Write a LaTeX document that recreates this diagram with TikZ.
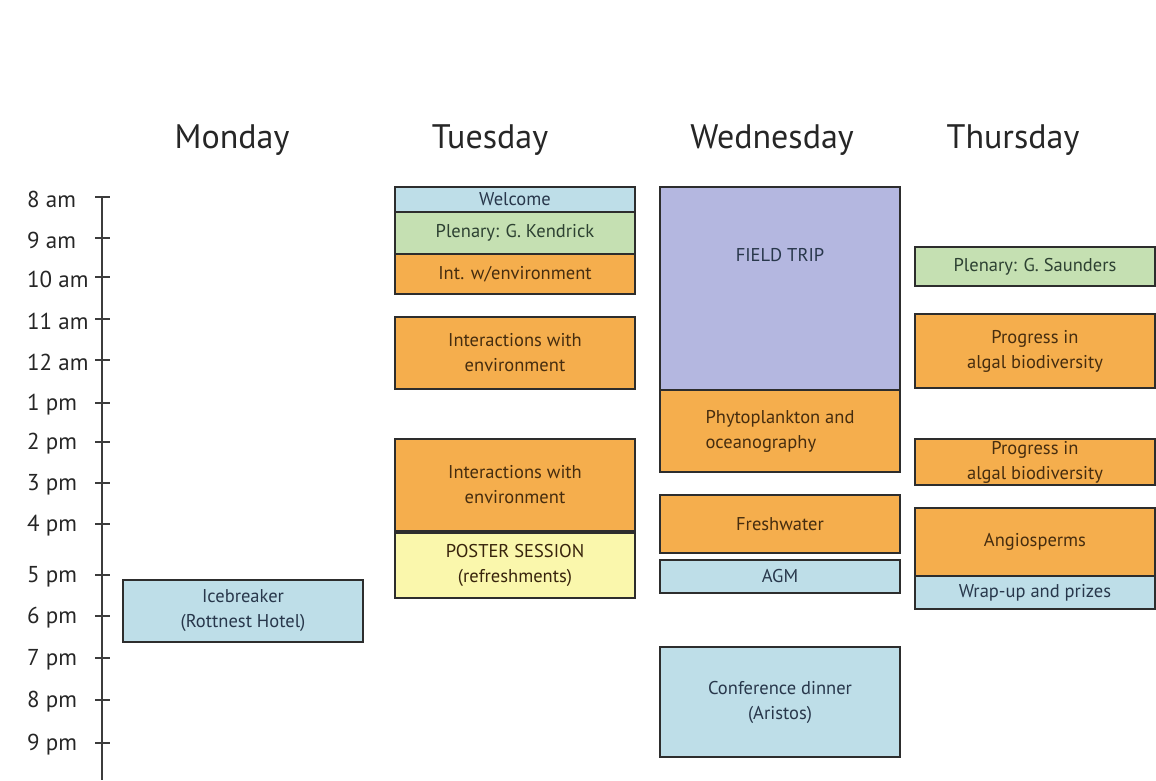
\documentclass[tikz,border=0pt]{standalone}
\usepackage{fontspec}
\setmainfont{PT Sans}
\definecolor{bluebox}{RGB}{190,222,232}
\definecolor{greenbox}{RGB}{197,224,178}
\definecolor{orangebox}{RGB}{245,174,77}
\definecolor{yellowbox}{RGB}{250,247,172}
\definecolor{tripbox}{RGB}{180,183,224}
\definecolor{boxline}{RGB}{45,45,45}
\definecolor{axisgray}{RGB}{60,60,60}
\definecolor{bluetext}{RGB}{40,55,75}
\definecolor{browntext}{RGB}{70,45,15}
\definecolor{greentext}{RGB}{45,65,50}

\begin{document}
\begin{tikzpicture}[x=1pt,y=-1pt,
    dayname/.style={font=\fontsize{34}{40}\selectfont, text=black!85},
    hourlabel/.style={anchor=west, font=\fontsize{23}{28}\selectfont, text=black!85, inner sep=0pt},
    slot/.style={draw=boxline, line width=1.5pt, minimum width=240pt, inner sep=0pt,
                 align=center, font=\fontsize{18.5}{25}\selectfont},
    blueslot/.style={slot, fill=bluebox, text=bluetext},
    greenslot/.style={slot, fill=greenbox, text=greentext},
    orangeslot/.style={slot, fill=orangebox, text=browntext},
    yellowslot/.style={slot, fill=yellowbox, text=browntext!80!black},
    tripslot/.style={slot, fill=tripbox, text=bluetext}]
\useasboundingbox (0,0) rectangle (1156,780);

% day headings
\node[dayname] (mon) at (232,140) {Monday};
\node[dayname] (tue) at (490,140) {Tuesday};
\node[dayname] (wed) at (772,140) {Wednesday};
\node[dayname] (thu) at (1013,140) {Thursday};

% time axis
\draw[axisgray, line width=1.6pt] (102,196) -- (102,780);
\foreach \y/\t [count=\i] in {199/8 am, 240/9 am, 279/10 am, 321/11 am, 362/12 am, 405/1 pm, 444/2 pm,
                              485/3 pm, 526/4 pm, 577/5 pm, 618/6 pm, 660/7 pm, 702/8 pm, 745/9 pm}
{
    \node[hourlabel] (h\i) at (27,\y) {\t};
    \draw[axisgray, line width=1.6pt] (95,\y-2) -- (110,\y-2);  % tick
}

% Monday
\node[blueslot, minimum height=62pt] (ice) at (243,611) {Icebreaker\\(Rottnest Hotel)};

% Tuesday
\node[blueslot, minimum height=25pt] (welcome) at (515,199.5) {Welcome};
\node[greenslot, minimum height=42pt] (kendrick) at (515,233) {Plenary: G. Kendrick};
\node[orangeslot, minimum height=40pt] (intA) at (515,274) {Int. w/environment};
\node[orangeslot, minimum height=72pt] (intB) at (515,353) {Interactions with\\environment};
\node[orangeslot, minimum height=92pt] (intC) at (515,485) {Interactions with\\environment};
\node[yellowslot, minimum height=65pt] (poster) at (515,565.5) {POSTER SESSION\\(refreshments)};

% Wednesday
\node[tripslot, minimum height=203pt] (trip) at (780,288.5) {};
\node[text=bluetext, font=\fontsize{18.5}{22}\selectfont] (tripText) at (780,255) {FIELD TRIP};
\node[orangeslot, minimum height=82pt, align=left] (phyto) at (780,431) {Phytoplankton and\\oceanography};
\node[orangeslot, minimum height=58pt] (fresh) at (780,524) {Freshwater};
\node[blueslot, minimum height=33pt] (agm) at (780,576.5) {AGM};
\node[blueslot, minimum height=110pt] (dinner) at (780,702) {Conference dinner\\(Aristos)};

% Thursday
\node[greenslot, minimum height=39pt] (saunders) at (1035,266.5) {Plenary: G. Saunders};
\node[orangeslot, minimum height=74pt] (algA) at (1035,351) {Progress in\\algal biodiversity};
\node[orangeslot, minimum height=46pt] (algB) at (1035,462) {Progress in\\algal biodiversity};
\node[orangeslot, minimum height=68pt] (angio) at (1035,542) {Angiosperms};
\node[blueslot, minimum height=33pt] (wrap) at (1035,592.5) {Wrap-up and prizes};
\end{tikzpicture}
\end{document}
